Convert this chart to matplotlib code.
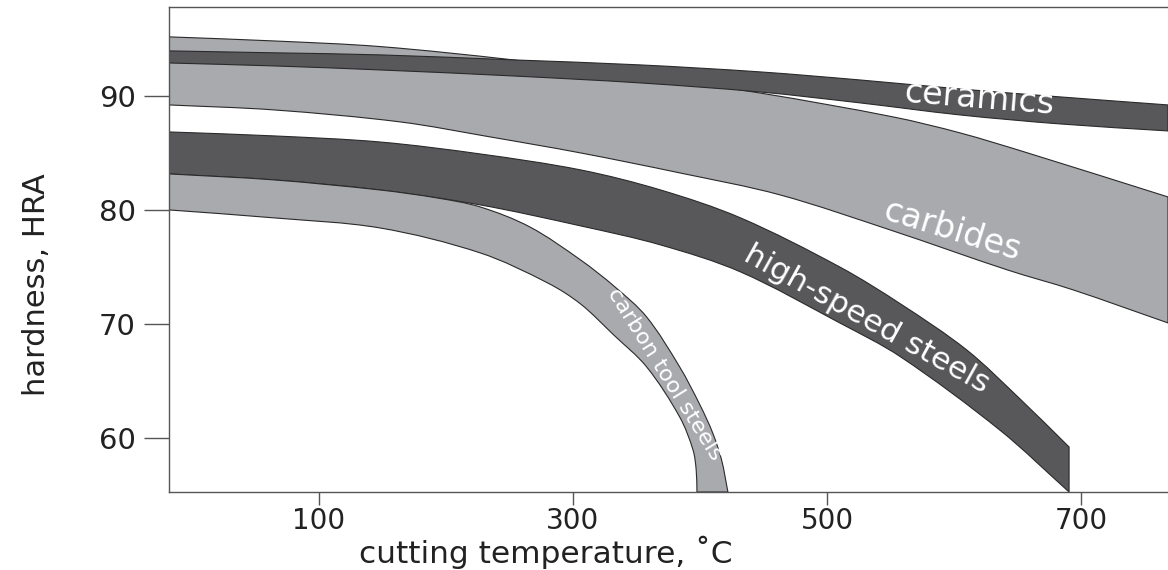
import matplotlib
matplotlib.use('Agg')
import matplotlib.pyplot as plt
from matplotlib.path import Path
from matplotlib.patches import PathPatch

# hardness bands: temperature (C) / hardness (HRA) along each edge

ceramics_top_t = [-18, 65, 148, 253, 353, 447, 526, 605, 684, 768.5]
ceramics_top_h = [93.95, 93.78, 93.6, 93.16, 92.72, 92.11, 91.40, 90.61, 89.91, 89.21]
ceramics_bot_t = [-18, 65, 148, 253, 353, 447, 526, 605, 684, 768.5]
ceramics_bot_h = [92.89, 92.63, 92.28, 91.75, 91.14, 90.35, 89.39, 88.33, 87.54, 86.93]

carbides_top_t = [-18, 65, 148, 253, 353, 447, 552, 605, 658, 768.5]
carbides_top_h = [95.18, 94.82, 94.33, 93.16, 91.75, 90.26, 88.16, 86.75, 85.0, 81.14]
carbides_bot_t = [-18, 65, 164, 235, 306, 384, 463, 552, 642, 694, 768.5]
carbides_bot_h = [89.21, 88.77, 87.72, 86.40, 85.0, 83.25, 81.32, 78.16, 74.74, 72.98, 70.09]

hss_top_t = [-18, 65, 148, 227, 306, 369, 432, 510, 558, 610, 652, 690.6]
hss_top_h = [86.84, 86.49, 85.96, 84.91, 83.51, 81.75, 79.30, 75.0, 71.75, 67.72, 63.42, 59.21]
hss_bot_t = [-18, 65, 148, 227, 306, 369, 432, 510, 558, 636, 690.6]
hss_bot_h = [83.16, 82.63, 81.75, 80.44, 78.60, 76.93, 74.56, 70.09, 67.11, 60.70, 55.26]

carbon_top_t = [-18, 65, 148, 193, 227, 266, 306, 333, 358, 384, 400, 410, 417, 422]
carbon_top_h = [83.16, 82.63, 81.75, 81.05, 80.26, 78.51, 75.61, 73.25, 70.61, 66.23, 62.89, 60.44, 58.07, 55.26]
carbon_bot_t = [-18, 65, 148, 227, 280, 306, 332, 358, 384, 394.5, 397, 397.6]
carbon_bot_h = [80.0, 79.30, 78.42, 76.23, 73.60, 71.75, 69.04, 66.23, 61.84, 58.95, 57.19, 55.26]

xticks = [100, 300, 500, 700]
yticks = [60, 70, 80, 90]

dark = '#58585b'
light = '#a9aaae'
edge = '#2a2a2a'

fig = plt.figure(figsize=(11.68, 5.70), dpi=100)
ax = fig.add_axes([169/1168, 78/570, 999/1168, 485/570])
ax.set_xlim(-18.1, 768.5)
ax.set_ylim(55.26, 97.8)


def curve(ts, hs):
    # smooth curve through the read points, tangents by chord length on screen
    p = list(zip(ts, hs))
    d = ax.transData.transform(p)
    n = len(p)
    s = [0.0]
    for i in range(1, n):
        s.append(s[-1] + ((d[i][0] - d[i-1][0])**2 + (d[i][1] - d[i-1][1])**2) ** 0.5)
    tan = []
    for i in range(n):
        a, b = max(i - 1, 0), min(i + 1, n - 1)
        tan.append(((p[b][0] - p[a][0]) / (s[b] - s[a]), (p[b][1] - p[a][1]) / (s[b] - s[a])))
    verts, codes = [], []
    for i in range(n - 1):
        h = (s[i+1] - s[i]) / 3
        c1 = (p[i][0] + tan[i][0] * h, p[i][1] + tan[i][1] * h)
        c2 = (p[i+1][0] - tan[i+1][0] * h, p[i+1][1] - tan[i+1][1] * h)
        verts += [c1, c2, p[i+1]]
        codes += [Path.CURVE4] * 3
    return p[0], verts, codes


def band(top_t, top_h, bot_t, bot_h, color):
    s0, v1, c1 = curve(top_t, top_h)
    s1, v2, c2 = curve(bot_t[::-1], bot_h[::-1])
    verts = [s0] + v1 + [s1] + v2 + [s0]
    codes = [Path.MOVETO] + c1 + [Path.LINETO] + c2 + [Path.CLOSEPOLY]
    ax.add_patch(PathPatch(Path(verts, codes), fc=color, ec=edge, lw=0.8, zorder=2))


band(carbides_top_t, carbides_top_h, carbides_bot_t, carbides_bot_h, light)
band(ceramics_top_t, ceramics_top_h, ceramics_bot_t, ceramics_bot_h, dark)
band(hss_top_t, hss_top_h, hss_bot_t, hss_bot_h, dark)
band(carbon_top_t, carbon_top_h, carbon_bot_t, carbon_bot_h, light)

lab = dict(color='white', ha='center', va='center', rotation_mode='anchor', zorder=3)
ax.text(620, 89.75, 'ceramics', fontsize=24, rotation=-4.6, **lab)
ax.text(598, 78.2, 'carbides', fontsize=24, rotation=-17, **lab)
ax.text(531, 70.4, 'high-speed steels', fontsize=22.5, rotation=-29, **lab)
ax.text(372, 65.6, 'carbon tool steels', fontsize=16, rotation=-58, **lab)

ax.set_xticks(xticks)
ax.set_yticks(yticks)

for sp in ['left', 'bottom', 'top']:
    ax.spines[sp].set_color('#555555')
    ax.spines[sp].set_linewidth(1.0)
    ax.spines[sp].set_zorder(4)
ax.spines['right'].set_visible(False)

ax.tick_params(axis='y', length=18, width=1.0, color='#555555', pad=6, labelsize=21, labelcolor='#222222')
ax.tick_params(axis='x', length=9, width=1.0, color='#555555', pad=2, labelsize=20, labelcolor='#222222')

ax.set_xlabel('cutting temperature, \u02daC', fontsize=22.5, color='#222222')
ax.xaxis.set_label_coords(0.377, -0.09)
ax.set_ylabel('hardness, HRA', fontsize=22, color='#222222')
ax.yaxis.set_label_coords(-0.118, 0.427)

fig.savefig('out.png', dpi=100)
